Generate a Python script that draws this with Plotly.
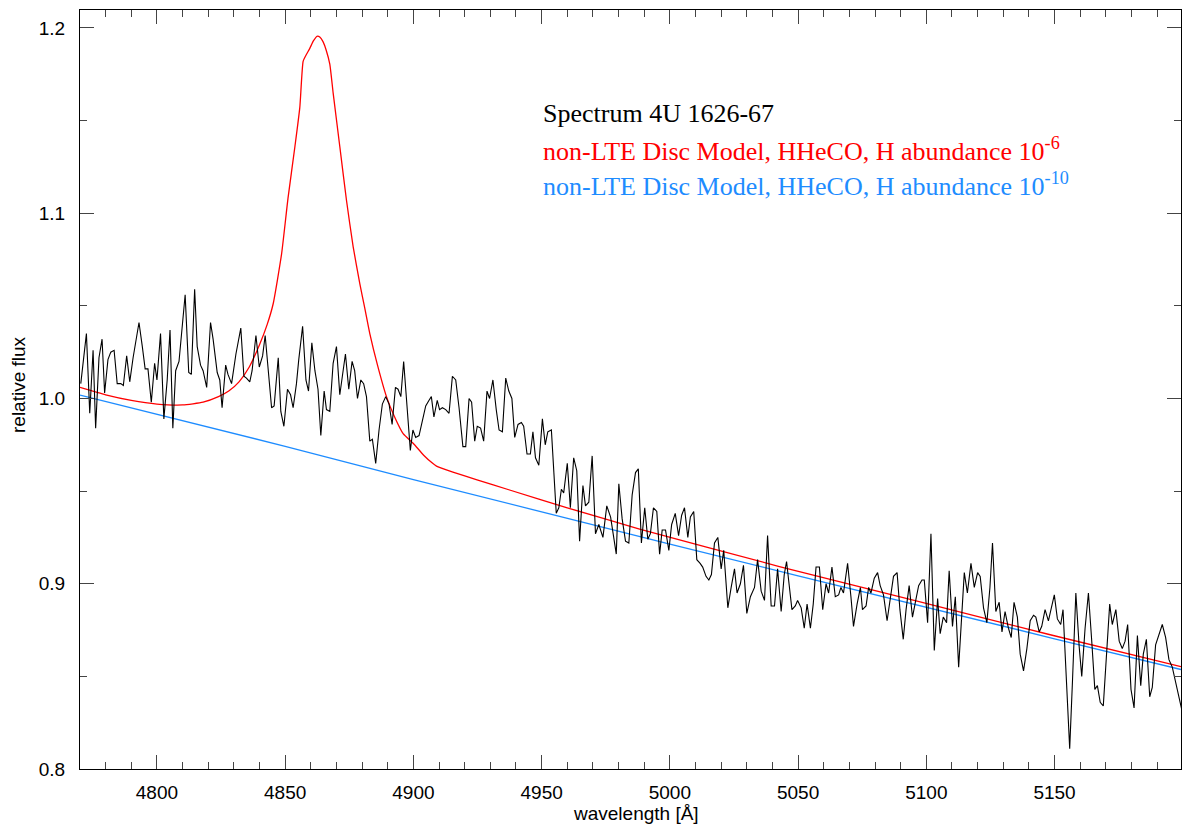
import plotly.graph_objects as go

# ---------------- data ----------------
wl_obs = [4770.3, 4772.5, 4773.8, 4775.1, 4776.1, 4777.4, 4778.6, 4779.6, 4780.9, 4782.0,
          4783.3, 4784.5, 4785.9, 4786.9, 4788.2, 4789.4, 4790.7, 4791.9, 4793.0, 4794.3,
          4795.4, 4796.5, 4797.8, 4799.1, 4800.0, 4801.4, 4802.7, 4804.0, 4805.1, 4806.2,
          4807.3, 4808.6, 4809.7, 4811.0, 4812.4, 4813.4, 4814.7, 4815.7, 4817.0, 4818.0,
          4819.4, 4820.9, 4821.9, 4823.5, 4824.5, 4825.4, 4826.8, 4827.7,
          4829.1, 4830.8, 4832.7, 4833.9, 4834.9, 4836.2, 4837.1, 4838.6, 4839.9, 4841.2,
          4842.2, 4843.4, 4844.7, 4845.7, 4847.3, 4848.3, 4849.5, 4850.9, 4852.1, 4853.1,
          4854.4, 4855.3, 4856.8, 4858.1, 4859.1, 4860.4, 4861.6, 4862.8, 4863.9, 4865.2,
          4866.1, 4867.4, 4868.7, 4870.0, 4871.3, 4872.3, 4873.5, 4874.8, 4876.1, 4877.1,
          4878.2, 4879.5, 4880.6, 4881.7, 4883.0,
          4884.0, 4885.3, 4886.6, 4887.9, 4889.2, 4890.5, 4891.7, 4893.0, 4894.0, 4895.1,
          4896.2, 4897.5, 4898.8, 4899.8, 4900.9, 4902.2, 4903.5, 4904.8, 4906.1, 4907.0,
          4908.0, 4909.3, 4910.2, 4911.3, 4912.6, 4913.9, 4915.2, 4916.5, 4917.8, 4919.3,
          4920.4, 4921.7, 4922.7, 4923.9, 4924.9, 4926.2, 4927.4, 4928.7, 4929.7, 4931.0,
          4932.3, 4933.4, 4934.7, 4936.0, 4937.2,
          4938.4, 4939.5, 4940.8, 4942.1, 4943.0, 4944.3, 4945.6, 4946.6, 4947.6, 4948.9,
          4950.3, 4951.4, 4952.4, 4953.8, 4954.8, 4955.7, 4956.7, 4957.7, 4958.6, 4960.0,
          4961.2, 4962.5, 4963.7, 4964.8, 4966.1, 4967.1, 4968.4, 4969.7, 4971.0, 4972.3,
          4973.9, 4975.4, 4976.9, 4979.1, 4980.1, 4981.4, 4982.7, 4984.0, 4985.3, 4986.6,
          4987.7, 4988.9, 4990.2, 4991.4,
          4992.4, 4993.6, 4994.9, 4996.0, 4997.0, 4998.3, 4999.6, 5000.7, 5002.1, 5003.4,
          5004.6, 5005.7, 5007.0, 5008.0, 5009.3, 5010.5, 5011.8, 5012.8, 5014.1, 5015.2,
          5016.2, 5017.4, 5018.7, 5020.0, 5021.0, 5022.6, 5023.9, 5025.2, 5026.2, 5027.5,
          5028.7, 5030.0, 5031.4, 5033.0, 5034.2, 5035.6, 5036.9, 5038.1, 5039.5, 5040.8,
          5042.0, 5043.4, 5044.6, 5045.5,
          5046.3, 5047.6, 5048.9, 5049.8, 5051.2, 5052.4, 5053.5, 5054.8, 5055.9, 5057.0,
          5058.3, 5059.6, 5060.9, 5061.9, 5063.2, 5064.5, 5065.8, 5066.7, 5067.7, 5069.3,
          5070.6, 5071.6, 5073.0, 5074.3, 5075.1, 5076.5, 5077.5, 5078.4, 5079.7, 5081.0,
          5082.0, 5083.3, 5084.7, 5085.9, 5087.2, 5088.6, 5089.7, 5091.0, 5092.1, 5093.3,
          5094.6, 5096.0, 5097.0, 5098.3, 5099.2, 5100.5,
          5101.8, 5103.1, 5104.4, 5105.4, 5106.6, 5107.9, 5108.9, 5110.2, 5111.3, 5112.6,
          5113.9, 5114.8, 5116.0, 5117.4, 5118.7, 5120.0, 5121.0, 5122.3, 5123.6, 5124.8,
          5125.8, 5127.1, 5128.4, 5129.5, 5130.7, 5132.0, 5133.1, 5134.2, 5135.5, 5136.6,
          5137.9, 5139.2, 5140.5, 5141.8, 5142.7, 5144.0, 5145.0, 5146.3, 5147.6, 5148.9,
          5149.9,
          5151.1, 5152.4, 5153.3, 5154.4, 5155.9, 5157.0, 5158.3, 5159.6, 5160.6, 5161.9,
          5163.2, 5164.5, 5165.7, 5166.7, 5167.8, 5169.0, 5170.2, 5171.5, 5172.5, 5173.9,
          5175.2, 5176.4, 5177.5, 5178.5, 5179.8, 5181.0, 5182.3, 5183.6, 5184.6, 5185.8,
          5187.1, 5188.1, 5189.4, 5190.7, 5192.0, 5193.3, 5194.6, 5195.9, 5197.6, 5198.5,
          5199.6]

flux_obs = [1.008, 1.035, 0.992, 1.026, 0.984, 1.022, 1.032, 1.003, 1.021, 1.025,
            1.026, 1.008, 1.008, 1.007, 1.023, 1.009, 1.022, 1.033, 1.041, 1.028,
            1.016, 1.016, 0.998, 1.019, 1.010, 1.035, 0.989, 1.010, 1.037, 0.984,
            1.015, 1.020, 1.035, 1.056, 1.014, 1.013, 1.059, 1.028, 1.018, 1.015,
            1.006, 1.041, 1.032, 1.014, 1.010, 0.995, 1.018, 1.013,
            1.008, 1.024, 1.038, 1.012, 1.011, 1.009, 1.015, 1.034, 1.017, 1.023,
            1.034, 1.017, 0.995, 0.996, 1.022, 0.993, 0.985, 1.005, 1.002, 0.995,
            1.008, 1.021, 1.039, 1.010, 1.004, 1.030, 1.015, 1.005, 0.980, 1.004,
            0.994, 0.993, 1.019, 1.028, 1.002, 1.012, 1.024, 1.005, 1.020, 1.015,
            1.000, 1.010, 1.008, 1.001, 0.977,
            0.978, 0.965, 0.983, 0.997, 1.001, 0.997, 0.986, 1.006, 1.005, 1.001,
            1.020, 0.995, 0.972, 0.983, 0.979, 0.980, 0.988, 0.996, 0.999, 1.001,
            0.990, 0.999, 0.994, 0.995, 0.994, 0.992, 1.012, 1.010, 0.995, 0.974,
            0.974, 1.000, 0.998, 0.977, 0.985, 0.984, 0.977, 1.004, 1.000, 1.010,
            0.994, 0.983, 0.982, 1.011, 1.004,
            1.000, 0.979, 0.986, 0.987, 0.985, 0.970, 0.970, 0.982, 0.968, 0.964,
            0.989, 0.975, 0.982, 0.983, 0.957, 0.938, 0.941, 0.951, 0.949, 0.965,
            0.941, 0.968, 0.961, 0.923, 0.953, 0.942, 0.944, 0.969, 0.927, 0.932,
            0.925, 0.942, 0.936, 0.916, 0.954, 0.935, 0.923, 0.922, 0.948, 0.960,
            0.962, 0.922, 0.941, 0.924,
            0.927, 0.941, 0.939, 0.916, 0.929, 0.929, 0.918, 0.932, 0.938, 0.926,
            0.937, 0.941, 0.925, 0.936, 0.939, 0.913, 0.911, 0.909, 0.904, 0.902,
            0.905, 0.922, 0.925, 0.908, 0.918, 0.887, 0.898, 0.908, 0.895, 0.900,
            0.910, 0.884, 0.893, 0.898, 0.913, 0.896, 0.891, 0.926, 0.888, 0.888,
            0.908, 0.885, 0.905, 0.912,
            0.902, 0.886, 0.888, 0.891, 0.887, 0.876, 0.889, 0.876, 0.889, 0.909,
            0.909, 0.886, 0.900, 0.895, 0.909, 0.893, 0.894, 0.898, 0.895, 0.911,
            0.893, 0.877, 0.889, 0.898, 0.886, 0.888, 0.898, 0.895, 0.903, 0.906,
            0.899, 0.894, 0.880, 0.893, 0.904, 0.906, 0.886, 0.870, 0.886, 0.899,
            0.882, 0.892, 0.899, 0.902, 0.902, 0.879,
            0.927, 0.864, 0.892, 0.873, 0.882, 0.879, 0.907, 0.877, 0.893, 0.855,
            0.889, 0.906, 0.895, 0.911, 0.898, 0.906, 0.904, 0.887, 0.879, 0.898,
            0.922, 0.885, 0.890, 0.874, 0.885, 0.876, 0.871, 0.890, 0.882, 0.862,
            0.853, 0.865, 0.880, 0.883, 0.882, 0.874, 0.877, 0.886, 0.880, 0.888,
            0.894,
            0.881, 0.878, 0.886, 0.853, 0.811, 0.848, 0.895, 0.866, 0.850, 0.876,
            0.895, 0.869, 0.843, 0.845, 0.836, 0.834, 0.859, 0.889, 0.878, 0.886,
            0.869, 0.865, 0.869, 0.878, 0.843, 0.833, 0.872, 0.845, 0.862, 0.870,
            0.839, 0.844, 0.867, 0.873, 0.878, 0.871, 0.859, 0.855, 0.844, 0.839,
            0.832]

wl_red = [4770.0, 4780.0, 4790.0, 4800.0, 4810.0, 4818.0, 4824.0, 4828.0, 4832.0, 4836.0,
          4840.0, 4843.0, 4845.3, 4848.6, 4851.1, 4853.8, 4855.7, 4857.0, 4858.0, 4859.6,
          4861.0, 4862.4, 4863.6, 4864.8, 4866.0, 4867.4, 4868.7, 4871.3, 4873.9, 4876.5,
          4879.1, 4881.0, 4883.0, 4886.0, 4889.5, 4892.5, 4896.0, 4900.0, 4904.0, 4907.5,
          4909.0, 4915.4, 4924.5, 4937.5, 4960.0, 4988.2, 5042.7, 5097.2, 5147.9, 5199.3]
flux_red = [1.006, 1.002, 0.999, 0.997, 0.9965, 0.998, 1.001, 1.004, 1.009, 1.017,
            1.029, 1.040, 1.051, 1.078, 1.108, 1.136, 1.157, 1.182, 1.185, 1.189,
            1.193, 1.1955, 1.195, 1.1925, 1.188, 1.1805, 1.165, 1.136, 1.107, 1.082,
            1.062, 1.049, 1.035, 1.018, 1.001, 0.9905, 0.981, 0.9757, 0.9694, 0.965,
            0.9635, 0.9603, 0.9562, 0.9506, 0.9410, 0.9295, 0.9093, 0.8904, 0.8726, 0.8553]

wl_blue = [4770, 4800, 4850, 4900, 4950, 5000, 5050, 5100, 5150, 5199.3]
flux_blue = [1.0018, 0.9914, 0.9742, 0.9562, 0.9387, 0.9214, 0.9043, 0.8872, 0.8703, 0.8537]

x_ticks = [4800, 4850, 4900, 4950, 5000, 5050, 5100, 5150]
y_ticks = [0.8, 0.9, 1.0, 1.1, 1.2]

label_lines = ["Spectrum 4U 1626-67",
               "non-LTE Disc Model, HHeCO, H abundance 10<sup>-6</sup>",
               "non-LTE Disc Model, HHeCO, H abundance 10<sup>-10</sup>"]
label_colors = ["#000000", "#ff0000", "#1e8cff"]

# ---------------- figure ----------------
W, H = 1182, 825
ML, MR, MT, MB = 80, 1, 10, 56
plot_h = H - MT - MB
plot_w = W - ML - MR

fig = go.Figure()
fig.add_trace(go.Scatter(x=wl_blue, y=flux_blue, mode="lines",
                         line=dict(color="#1e8cff", width=1.3), hoverinfo="skip"))
fig.add_trace(go.Scatter(x=wl_red, y=flux_red, mode="lines",
                         line=dict(color="#ff0000", width=1.3, shape="spline", smoothing=0.5),
                         hoverinfo="skip"))
fig.add_trace(go.Scatter(x=wl_obs, y=flux_obs, mode="lines",
                         line=dict(color="#000000", width=1.1), hoverinfo="skip"))

tickfont = dict(family="Liberation Sans, Arial, sans-serif", size=19, color="#000")
axis_common = dict(showgrid=False, zeroline=False, showline=True, linecolor="#000",
                   linewidth=1, mirror="allticks", ticks="inside", ticklen=14,
                   tickcolor="#444", tickwidth=1, tickfont=tickfont)

fig.update_xaxes(range=[4770, 5199.3], tickvals=x_ticks, ticklabelstandoff=6,
                 minor=dict(dtick=10, ticks="inside", ticklen=7, tickcolor="#444"),
                 **axis_common)
fig.update_yaxes(range=[0.8, 1.2097], tickvals=y_ticks, tickformat=".1f",
                 ticklabelstandoff=10,
                 minor=dict(dtick=0.05, ticks="inside", ticklen=7, tickcolor="#444"),
                 **axis_common)

def px_y(py):
    return (H - MB - py) / plot_h

def px_x(px):
    return (px - ML) / plot_w

annotations = []
centers = [113.5, 149.5, 185.0]
for i, (txt, col) in enumerate(zip(label_lines, label_colors)):
    annotations.append(dict(text=txt, xref="paper", yref="paper", x=px_x(541),
                            y=px_y(centers[i]), xanchor="left", yanchor="middle",
                            showarrow=False,
                            font=dict(family="Liberation Serif, Times New Roman, serif",
                                      size=26, color=col)))
annotations.append(dict(text="wavelength [Å]", xref="paper", yref="paper",
                        x=px_x(636), y=px_y(813), xanchor="center", yanchor="middle",
                        showarrow=False, font=tickfont))
annotations.append(dict(text="relative flux", xref="paper", yref="paper",
                        x=px_x(18), y=px_y(385), xanchor="center", yanchor="middle",
                        textangle=-90, showarrow=False, font=tickfont))

fig.update_layout(width=W, height=H, margin=dict(l=ML, r=MR, t=MT, b=MB),
                  plot_bgcolor="white", paper_bgcolor="white", showlegend=False,
                  annotations=annotations)

fig.write_html("out.html")
